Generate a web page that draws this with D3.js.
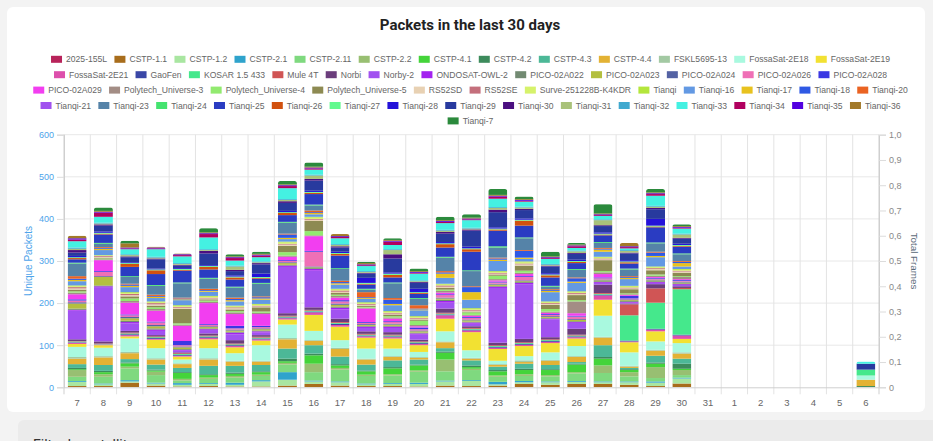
<!DOCTYPE html>
<html>
<head>
<meta charset="utf-8">
<script src="https://cdn.jsdelivr.net/npm/d3@7"></script>
<style>
  html, body { margin: 0; padding: 0; background: #f3f3f3; }
  svg { display: block; font-family: "Liberation Sans", Arial, sans-serif; }
</style>
</head>
<body>
<svg id="chart" width="933" height="441"></svg>
<script>
// ---- categories / ticks ----
const days = ["7","8","9","10","11","12","13","14","15","16","17","18","19","20","21","22","23","24","25","26","27","28","29","30","31","1","2","3","4","5","6"];
const leftTicks = [0, 100, 200, 300, 400, 500, 600];
const rightTicks = [0, 0.1, 0.2, 0.3, 0.4, 0.5, 0.6, 0.7, 0.8, 0.9, 1.0];

const names = ["2025-155L","CSTP-1.1","CSTP-1.2","CSTP-2.1","CSTP-2.11","CSTP-2.2","CSTP-4.1","CSTP-4.2","CSTP-4.3","CSTP-4.4","FSKL5695-13","FossaSat-2E18","FossaSat-2E19",
  "FossaSat-2E21","GaoFen","KOSAR 1.5 433","Mule 4T","Norbi","Norby-2","ONDOSAT-OWL-2","PICO-02A022","PICO-02A023","PICO-02A024","PICO-02A026","PICO-02A028",
  "PICO-02A029","Polytech_Universe-3","Polytech_Universe-4","Polytech_Universe-5","RS52SD","RS52SE","Surve-251228B-K4KDR","Tianqi","Tianqi-16","Tianqi-17","Tianqi-18","Tianqi-20",
  "Tianqi-21","Tianqi-23","Tianqi-24","Tianqi-25","Tianqi-26","Tianqi-27","Tianqi-28","Tianqi-29","Tianqi-30","Tianqi-31","Tianqi-32","Tianqi-33","Tianqi-34","Tianqi-35","Tianqi-36",
  "Tianqi-7"];

const colors = ["#b8235a","#a86d1c","#a9e6a1","#2fa3cc","#7fd97f","#98bf72","#44d43a","#3d8b5c","#4cb897","#e3b234","#a3c9a3","#a9f9df","#f2e132",
  "#dd4fac","#3a47a6","#45e88c","#d05555","#6b3e7c","#a152f0","#a322ef","#728a72","#b3bf3f","#5462a3","#ef70b6","#3b38e3",
  "#f23ef0","#a38d85","#92ea6f","#8d8a52","#e8d1b3","#c46f7c","#d6f26b","#b4e63c","#6399e3","#e8c21e","#2f59e4","#ea6322",
  "#a152ef","#5583a8","#44e36f","#2a3cc2","#d1510f","#62fa8f","#2412d9","#283a9e","#4b0f80","#a9c27a","#40a9cf","#44f1e2","#b1005f","#5200e0","#a27929",
  "#2b8a3c"];

// ---- unique packets per satellite, one value per day (7 .. 30, 31, 1 .. 6) ----
const s2025_155L = [0,0,0,0,0,0,0,0,0,0,0,0,0,0,0,0,0,0,0,0,0,0,0,0, 0,0,0,0,0,0,0];
const cstp11   = [3,3,11,4,2,3,2,2,4,8,4,3,3,2,4,3,4,8,6,8,8,6,3,9, 0,0,0,0,0,0,0];
const cstp12   = [10,4,3,5,4,5,4,12,14,6,8,4,5,6,10,12,3,4,6,5,4,6,8,12, 0,0,0,0,0,0,0];
const cstp21   = [2,2,3,2,4,2,5,3,18,2,2,2,2,3,2,2,6,3,2,2,2,2,3,2, 0,0,0,0,0,0,0];
const cstp211  = [10,16,28,18,6,10,12,10,18,20,28,18,18,26,22,24,12,12,12,18,20,12,8,6, 0,0,0,0,0,0,0];
const cstp22   = [16,6,4,8,4,3,4,3,4,20,4,3,3,3,28,3,3,4,3,3,18,10,26,12, 0,0,0,0,0,0,0];
const cstp41   = [2,5,8,3,14,6,5,6,4,20,6,8,14,12,16,4,10,10,12,18,16,5,8,3, 0,0,0,0,0,0,0];
const cstp42   = [3,3,2,2,2,2,3,2,6,4,3,2,3,2,3,4,3,3,2,2,4,2,3,12, 0,0,0,0,0,0,3];
const cstp43   = [9,14,8,12,10,20,16,15,24,20,18,14,16,12,8,12,8,12,10,4,28,3,16,12, 0,0,0,0,0,0,0];
const cstp44   = [13,18,14,12,9,15,10,8,22,10,18,12,8,4,14,4,4,4,10,12,18,3,12,12, 0,0,0,0,0,0,15];
const fskl     = [4,3,3,3,2,3,2,2,3,2,3,2,2,2,2,2,2,4,2,2,2,2,2,3, 0,0,0,0,0,0,0];
const fossa18  = [24,20,32,24,9,24,18,37,32,22,18,24,18,12,24,18,8,10,18,24,50,32,20,22, 0,0,0,0,0,0,10];
const fossa19  = [7,6,5,20,7,21,14,11,12,38,32,26,24,16,30,43,28,24,22,18,38,24,24,10, 0,0,0,0,0,0,0];
const fossa21  = [3,2,3,2,2,3,3,3,3,6,4,3,3,3,8,4,3,3,3,3,10,2,4,8, 0,0,0,0,0,0,0];
const gaofen   = [1,0,2,2,2,2,2,2,2,2,3,2,2,2,2,2,2,2,2,2,2,2,2,2, 0,0,0,0,0,0,0];
const kosar    = [2,1,2,2,2,2,2,2,2,2,2,2,2,2,2,2,2,2,2,2,2,60,62,108, 0,0,0,0,0,0,14];
const mule4t   = [1,1,2,2,2,2,2,2,2,2,2,2,2,2,2,2,2,2,2,2,2,26,34,3, 0,0,0,0,0,0,0];
const norbi    = [4,5,4,3,2,5,8,4,6,6,8,6,6,4,10,4,6,8,5,14,20,2,10,4, 0,0,0,0,0,0,0];
const norby2   = [68,129,18,10,4,8,14,6,110,87,22,8,10,12,14,6,130,130,42,14,4,2,3,3, 0,0,0,0,0,0,0];
const ondosat  = [2,2,3,3,2,2,4,3,3,4,4,3,3,3,4,3,3,3,2,2,2,2,2,2, 0,0,0,0,0,0,0];
const pico022  = [3,2,3,3,2,2,2,2,2,2,3,2,2,2,3,2,2,2,2,2,2,2,2,2, 0,0,0,0,0,0,0];
const pico023  = [12,20,6,5,4,3,3,3,4,2,4,2,3,3,3,3,3,2,2,3,2,2,2,2, 0,0,0,0,0,0,0];
const pico024  = [3,2,3,3,2,2,2,2,2,2,3,2,2,2,2,2,2,2,2,2,2,2,2,2, 0,0,0,0,0,0,0];
const pico026  = [4,10,4,6,3,3,3,3,3,35,5,3,4,3,6,4,3,8,3,6,3,2,2,2, 0,0,0,0,0,0,0];
const pico028  = [3,2,2,2,10,2,6,3,2,2,3,2,2,4,2,2,2,2,2,2,2,6,2,2, 0,0,0,0,0,0,0];
const pico029  = [12,26,28,26,36,50,28,28,8,35,6,32,6,3,4,3,3,5,3,6,8,2,2,2, 0,0,0,0,0,0,0];
const polytech3 = [4,2,4,4,3,3,4,3,3,2,4,2,3,3,4,2,3,3,3,28,4,2,3,5, 0,0,0,0,0,0,0];
const polytech4 = [3,2,6,4,3,3,3,3,8,10,3,2,3,10,3,6,8,5,6,3,3,2,3,2, 0,0,0,0,0,0,0];
const polytech5 = [4,2,5,4,34,3,4,10,15,24,4,3,4,3,4,2,3,12,10,12,26,10,10,8, 0,0,0,0,0,0,0];
const rs52sd   = [3,2,3,3,3,2,3,2,3,3,3,2,2,2,3,2,2,3,2,3,2,2,3,3, 0,0,0,0,0,0,0];
const rs52se   = [3,2,3,3,2,2,2,2,2,2,3,2,2,2,3,2,2,2,2,2,2,2,2,2, 0,0,0,0,0,0,0];
const surve    = [2,1,2,2,2,2,2,2,3,3,2,2,2,2,2,2,2,3,2,2,2,2,2,2, 0,0,0,0,0,0,0];
const tianqi   = [2,1,2,2,2,2,2,2,2,2,2,2,2,2,2,2,2,2,2,2,2,2,2,2, 0,0,0,0,0,0,0];
const tianqi16 = [10,12,12,8,12,10,10,10,6,6,10,8,14,14,14,20,24,6,22,20,12,16,22,6, 0,0,0,0,0,0,0];
const tianqi17 = [3,3,3,3,2,2,3,3,3,3,3,2,3,2,10,18,3,3,3,3,5,3,3,8, 0,0,0,0,0,0,0];
const tianqi18 = [3,2,3,2,2,2,3,3,8,2,3,2,10,2,3,12,3,16,2,8,2,2,8,3, 0,0,0,0,0,0,0];
const tianqi20 = [6,2,2,3,2,3,3,2,2,4,3,12,4,8,3,2,2,2,2,2,2,2,2,2, 0,0,0,0,0,0,0];
const tianqi21 = [0,0,0,0,0,0,0,0,0,0,0,0,0,0,0,0,0,0,0,0,0,0,0,0, 0,0,0,0,0,0,0];
const tianqi23 = [30,8,16,21,34,24,24,30,26,12,28,6,35,15,32,36,24,28,6,18,12,16,20,16, 0,0,0,0,0,0,0];
const tianqi24 = [2,2,2,2,2,2,2,2,2,2,2,2,2,2,2,2,3,2,2,2,2,2,2,2, 0,0,0,0,0,0,0];
const tianqi25 = [8,20,22,26,28,20,17,10,16,25,30,10,12,10,22,44,37,28,20,14,16,12,36,16, 0,0,0,0,0,0,0];
const tianqi26 = [3,2,7,9,2,6,5,2,5,3,4,2,6,2,8,6,3,12,5,3,2,3,2,2, 0,0,0,0,0,0,0];
const tianqi27 = [2,2,2,2,2,2,2,2,2,2,2,2,3,2,2,2,2,2,2,2,2,2,2,2, 0,0,0,0,0,0,0];
const tianqi28 = [3,3,2,2,2,2,3,8,3,3,3,12,3,8,3,4,3,3,3,3,3,3,16,3, 0,0,0,0,0,0,0];
const tianqi29 = [8,14,12,22,6,28,10,22,19,24,10,10,33,14,20,38,36,20,16,14,15,16,23,12, 0,0,0,0,0,0,14];
const tianqi30 = [6,3,2,2,2,6,3,3,4,4,3,2,10,2,4,3,6,3,2,2,2,2,3,2, 0,0,0,0,0,0,0];
const tianqi31 = [3,2,3,2,2,2,8,2,3,8,3,2,10,2,3,2,4,3,2,4,12,4,3,8, 0,0,0,0,0,0,0];
const tianqi32 = [3,2,2,2,2,2,2,2,2,2,2,2,2,2,2,2,2,2,2,2,2,2,2,2, 0,0,0,0,0,0,0];
const tianqi33 = [15,14,12,18,16,28,12,10,26,12,14,12,10,16,16,18,20,12,12,6,8,4,24,12, 0,0,0,0,0,0,5];
const tianqi34 = [4,10,2,2,3,8,6,4,5,3,3,2,8,2,3,2,5,2,2,4,2,3,4,2, 0,0,0,0,0,0,0];
const tianqi35 = [3,2,2,2,2,2,2,2,2,2,2,2,2,2,2,2,2,2,2,2,2,2,2,2, 0,0,0,0,0,0,0];
const tianqi36 = [6,2,10,2,2,2,2,2,2,2,5,3,2,2,2,2,2,2,2,2,2,8,2,2, 0,0,0,0,0,0,0];
const tianqi7  = [0,8,6,0,0,10,5,5,8,10,0,3,4,6,8,8,14,6,11,4,22,0,8,4, 0,0,0,0,0,0,0];

const seriesValues = [s2025_155L, cstp11, cstp12, cstp21, cstp211, cstp22, cstp41, cstp42, cstp43, cstp44, fskl, fossa18, fossa19,
  fossa21, gaofen, kosar, mule4t, norbi, norby2, ondosat, pico022, pico023, pico024, pico026, pico028,
  pico029, polytech3, polytech4, polytech5, rs52sd, rs52se, surve, tianqi, tianqi16, tianqi17, tianqi18, tianqi20,
  tianqi21, tianqi23, tianqi24, tianqi25, tianqi26, tianqi27, tianqi28, tianqi29, tianqi30, tianqi31, tianqi32, tianqi33, tianqi34, tianqi35, tianqi36,
  tianqi7];

// table for d3.stack
const rows = days.map((day, i) => {
  const r = { day: day };
  names.forEach((n, k) => { r[n] = seriesValues[k][i]; });
  return r;
});

const svg = d3.select("#chart");
const plotL = 64, plotR = 879, plotT = 134.7, plotB = 387.3;

// page card + filter box
svg.append("rect").attr("x", 7).attr("y", 7).attr("width", 918).attr("height", 405).attr("rx", 6).attr("fill", "#fff");
svg.append("rect").attr("x", 18).attr("y", 420).attr("width", 930).attr("height", 40).attr("rx", 6).attr("fill", "#ebebeb");
svg.append("text").attr("x", 33).attr("y", 450).attr("font-family", "Roboto, sans-serif")
  .attr("font-size", 14).attr("fill", "#333").text("Filter by satellite");

// title
svg.append("text").attr("x", 470).attr("y", 29.5).attr("text-anchor", "middle")
  .attr("font-family", "Roboto, sans-serif").attr("font-weight", "bold").attr("font-size", 15)
  .attr("fill", "#222").text("Packets in the last 30 days");

// scales
const x = d3.scaleBand().domain(days).range([plotL, plotR]).padding(0);
const y = d3.scaleLinear().domain([0, 600]).range([plotB, plotT]);
const yR = d3.scaleLinear().domain([0, 1]).range([plotB, plotT]);
const bw = x.bandwidth() * 0.72;

// grid
const grid = svg.append("g");
grid.selectAll("line.h").data(leftTicks.slice(1)).join("line")
  .attr("x1", plotL).attr("x2", plotR).attr("y1", d => y(d)).attr("y2", d => y(d))
  .attr("stroke", "#e8e8e8").attr("stroke-width", 1);
const bounds = days.map(d => x(d)).concat([plotR]);
grid.selectAll("line.v").data(bounds).join("line")
  .attr("x1", d => d).attr("x2", d => d).attr("y1", plotT).attr("y2", plotB + 7)
  .attr("stroke", (d, i) => (i === 0 || i === bounds.length - 1) ? "#cfcfcf" : "#e3e3e3").attr("stroke-width", 1);

// bars (stacked, legend order bottom -> top)
const stacked = d3.stack().keys(names)(rows);
const totals = rows.map(r => d3.sum(names, n => r[n]));
const defs = svg.append("defs");
days.forEach((day, i) => {
  if (!totals[i]) return;
  const x0 = x(day) + (x.bandwidth() - bw) / 2, x1 = x0 + bw;
  const yt = y(totals[i]), yb = plotB, r = 2.5;
  defs.append("clipPath").attr("id", "clip" + i).append("path")
    .attr("d", `M${x0},${yb}V${yt + r}Q${x0},${yt} ${x0 + r},${yt}H${x1 - r}Q${x1},${yt} ${x1},${yt + r}V${yb}Z`);
});
const barsG = svg.append("g");
stacked.forEach((layer, k) => {
  barsG.append("g").attr("fill", colors[k])
    .selectAll("rect").data(layer.filter(d => d[1] - d[0] > 0)).join("rect")
    .attr("x", d => x(d.data.day) + (x.bandwidth() - bw) / 2)
    .attr("width", bw)
    .attr("y", d => y(d[1]))
    .attr("height", d => y(d[0]) - y(d[1]))
    .attr("clip-path", d => `url(#clip${days.indexOf(d.data.day)})`);
});

// axes
const gl = svg.append("g").attr("transform", `translate(${plotL},0)`)
  .call(d3.axisLeft(y).tickValues(leftTicks).tickSize(7).tickPadding(3));
gl.select(".domain").attr("stroke", "#cfcfcf");
gl.selectAll(".tick line").attr("stroke", "#dcdcdc");
gl.selectAll(".tick text").attr("fill", "#4ea4ea").attr("font-size", 9);

const gr = svg.append("g").attr("transform", `translate(${plotR},0)`)
  .call(d3.axisRight(yR).tickValues(rightTicks).tickSize(7).tickPadding(3)
    .tickFormat(v => v === 0 ? "0" : v.toFixed(1).replace(".", ",")));
gr.select(".domain").attr("stroke", "#cfcfcf");
gr.selectAll(".tick line").attr("stroke", "#dcdcdc");
gr.selectAll(".tick text").attr("fill", "#888").attr("font-size", 9);

const gb = svg.append("g").attr("transform", `translate(0,${plotB})`)
  .call(d3.axisBottom(x).tickSize(0).tickPadding(12));
gb.select(".domain").attr("stroke", "#cfcfcf");
gb.selectAll(".tick text").attr("fill", "#666").attr("font-size", 9.5);

// axis titles
svg.append("text").attr("transform", `translate(28,${(plotT + plotB) / 2}) rotate(-90)`)
  .attr("text-anchor", "middle").attr("dominant-baseline", "central")
  .attr("font-size", 10).attr("fill", "#4ea4ea").text("Unique Packets");
svg.append("text").attr("transform", `translate(914,${(plotT + plotB) / 2}) rotate(90)`)
  .attr("text-anchor", "middle").attr("dominant-baseline", "central")
  .attr("font-size", 9.8).attr("fill", "#5c6b7a").text("Total Frames");

// legend (centered flow rows)
const legendFont = 8.6, boxW = 11, boxH = 7, textOff = 15, itemGap = 7.3, maxRow = 876, legendCx = 470.5;
const legend = svg.append("g");
const probe = legend.append("text").attr("font-size", legendFont);
const items = names.map((n, k) => {
  probe.text(n);
  return { name: n, color: colors[k], w: textOff + probe.node().getComputedTextLength() };
});
probe.remove();
const lrows = [[]];
let rowW = 0;
items.forEach(it => {
  const cur = lrows[lrows.length - 1];
  const need = cur.length ? rowW + itemGap + it.w : it.w;
  if (cur.length && need > maxRow) { lrows.push([it]); rowW = it.w; }
  else { cur.push(it); rowW = need; }
});
lrows.forEach((row, ri) => {
  const total = d3.sum(row, d => d.w) + itemGap * (row.length - 1);
  let cx = legendCx - total / 2;
  const cy = 59.3 + ri * 15.4;
  row.forEach(it => {
    legend.append("rect").attr("x", cx).attr("y", cy - boxH / 2).attr("width", boxW).attr("height", boxH).attr("fill", it.color);
    legend.append("text").attr("x", cx + textOff).attr("y", cy).attr("dominant-baseline", "central")
      .attr("font-size", legendFont).attr("fill", "#666").text(it.name);
    cx += it.w + itemGap;
  });
});
</script>
</body>
</html>
